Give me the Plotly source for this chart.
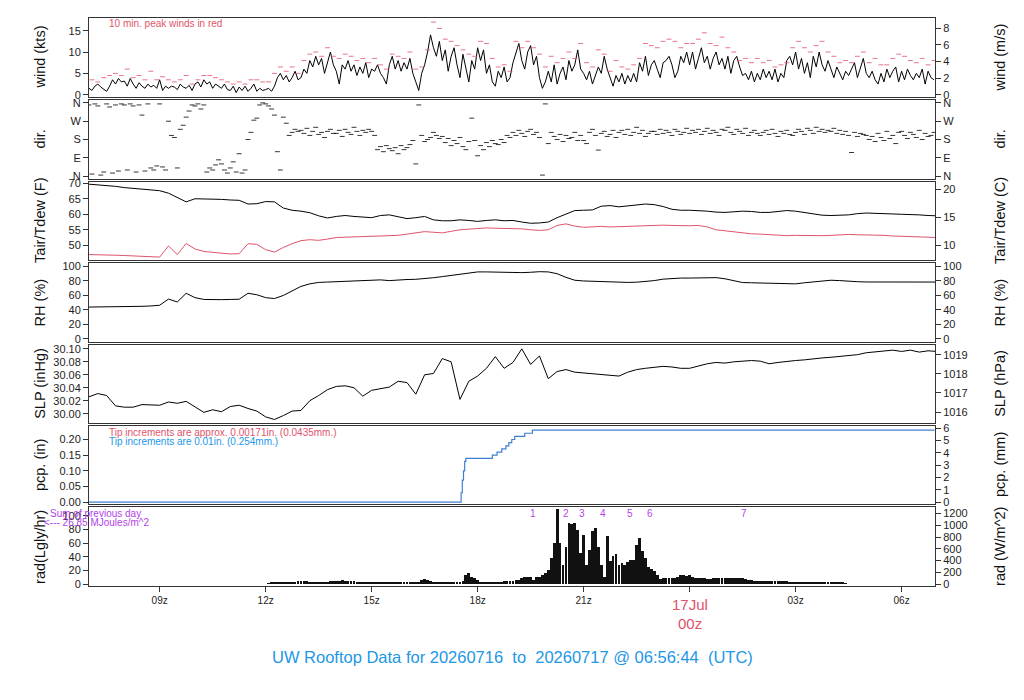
import pandas as pd
import plotly.graph_objects as go

T0 = '2026-07-16 07:00'
T1 = '2026-07-17 06:56:44'

# wind speed (kts), 5-min samples from 07z
wind_kts = [
    1.5, 1.0, 2.0, 2.5, 1.8, 1.2, 0.8, 2.0, 3.5, 2.5, 3.8, 3.0,
    3.2, 2.0, 3.8, 2.5, 1.5, 2.8, 2.0, 1.5, 2.5, 1.8, 2.2, 1.5,
    3.5, 1.0, 2.0, 1.5, 2.0, 1.8, 1.2, 2.5, 1.8, 1.5, 2.2, 1.0,
    2.5, 3.0, 1.8, 3.5, 2.5, 3.0, 1.5, 2.5, 2.0, 1.5, 2.5, 1.2,
    1.0, 2.0, 0.5, 1.8, 1.0, 2.0, 0.8, 1.5, 2.5, 0.8, 1.5, 1.0,
    1.2, 1.5, 0.8, 2.0, 4.0, 5.0, 3.5, 4.5, 3.0, 4.0, 5.5, 3.5,
    4.0, 6.0, 5.0, 8.0, 6.5, 9.0, 7.0, 8.5, 5.0, 7.5, 10.0, 7.0,
    5.5, 2.5, 7.0, 6.0, 8.0, 5.5, 7.0, 4.5, 6.5, 5.0, 7.5, 4.0,
    6.0, 5.5, 7.0, 5.0, 4.0, 2.5, 7.0, 9.0, 6.0, 8.0, 5.5, 7.5,
    6.0, 8.5, 5.0, 3.0, 1.0, 5.0, 7.0, 10.0, 14.0, 11.0, 9.0, 12.5,
    8.0, 10.5, 5.5, 9.0, 11.0, 7.0, 4.0, 9.5, 6.0, 3.0, 8.0, 6.0,
    11.0, 8.0, 10.5, 5.0, 7.0, 3.0, 2.0, 5.5, 4.0, 6.5, 3.0, 4.0,
    7.5, 10.0, 12.0, 8.0, 6.0, 10.0, 11.5, 7.0, 9.0, 4.0, 1.5, 3.0,
    5.5, 3.0, 7.0, 2.5, 5.0, 6.5, 3.5, 8.0, 5.5, 7.0, 10.5, 6.0,
    5.0, 3.5, 5.5, 2.5, 4.5, 6.5, 5.0, 9.0, 6.0, 4.0, 2.0, 4.5,
    3.0, 5.0, 2.5, 4.5, 3.0, 5.0, 3.0, 7.5, 5.5, 9.0, 4.5, 7.0,
    8.0, 6.0, 4.0, 7.5, 8.0, 9.0, 7.0, 4.0, 5.5, 9.0, 7.5, 10.0,
    7.0, 10.0, 6.0, 8.5, 11.0, 7.5, 9.0, 6.0, 8.5, 10.0, 7.0, 8.5,
    6.0, 9.0, 5.0, 8.0, 9.0, 6.5, 4.5, 5.0, 3.5, 5.5, 3.0, 5.0,
    3.5, 6.0, 4.0, 5.5, 3.5, 6.0, 3.0, 5.0, 4.0, 8.0, 9.0, 7.0,
    10.0, 6.0, 8.5, 5.0, 7.5, 4.0, 9.0, 6.5, 10.0, 7.0, 5.5, 8.0,
    6.0, 4.0, 6.5, 5.0, 3.5, 5.5, 4.5, 6.0, 7.5, 4.0, 6.0, 8.5,
    5.0, 4.0, 5.5, 3.5, 2.5, 5.0, 3.0, 6.0, 4.0, 5.5, 6.5, 3.0,
    5.5, 3.5, 6.0, 4.5, 3.5, 5.0, 4.0, 6.0, 2.5, 5.5, 4.0, 3.5,
]

# 10-min peak wind (kts)
peak_kts = [
    3.5, 3.0, 4.0, 4.5, 5.0, 4.5,
    6.0, 4.0, 4.5, 3.5, 5.5, 3.5,
    4.2, 3.5, 3.0, 3.5, 4.5, 2.5,
    3.5, 4.5, 4.5, 4.0, 3.5, 3.0,
    2.5, 3.0, 2.5, 3.5, 3.5, 3.0,
    3.0, 5.0, 6.5, 5.5, 6.5, 5.0,
    8.0, 9.5, 10.0, 9.0, 11.0, 9.0,
    8.5, 9.5, 9.0, 8.0, 8.5, 7.5,
    8.5, 7.0, 6.0, 9.5, 9.0, 8.5,
    10.0, 6.0, 6.5, 10.5, 17.0, 15.5,
    13.0, 12.5, 11.5, 10.5, 9.5, 9.0,
    12.5, 12.0, 8.5, 6.5, 7.0, 5.5,
    12.5, 11.0, 12.5, 11.0, 9.5, 6.5,
    9.0, 7.5, 8.5, 10.0, 8.5, 12.0,
    7.5, 6.5, 10.5, 9.5, 5.5, 8.0,
    6.5, 6.0, 7.0, 8.5, 12.0, 11.5,
    11.0, 12.5, 13.0, 12.5, 11.0, 12.0,
    12.0, 13.0, 14.5, 12.0, 11.5, 13.5,
    11.0, 10.0, 8.0, 8.5, 7.5, 8.5,
    7.5, 8.0, 6.5, 7.0, 7.5, 11.0,
    12.5, 11.0, 10.0, 11.5, 12.5, 10.0,
    9.0, 7.5, 8.0, 7.5, 9.0, 10.0,
    7.5, 8.5, 7.0, 7.0, 8.5, 9.5,
    9.0, 8.0, 7.5, 8.5, 7.0, 8.0,
]

# wind direction (deg, 0=N bottom), 5-min samples
wind_dir = [
    350, 10, 355, 345, 5, 20, 355, 340, 15, 350, 25, 355,
    350, 30, 355, 345, 20, 350, 300, 25, 355, 40, 30, 50,
    355, 45, 30, 270, 200, 190, 40, 230, 250, 290, 320, 350,
    345, 355, 330, 350, 20, 40, 30, 55, 80, 60, 30, 15,
    40, 70, 20, 110, 15, 30, 180, 215, 275, 285, 350, 360,
    355, 345, 330, 300, 120, 30, 290, 260, 200, 215, 230, 220,
    225, 210, 235, 200, 220, 240, 205, 215, 190, 220, 230, 210,
    210, 225, 195, 230, 215, 205, 240, 220, 200, 225, 215, 230,
    220, 200, 130, 145, 120, 150, 135, 125, 140, 110, 150, 130,
    140, 155, 175, 60, 350, 200, 170, 180, 190, 215, 200, 185,
    195, 165, 185, 150, 175, 160, 190, 145, 130, 170, 285, 175,
    100, 150, 130, 165, 145, 175, 160, 155, 180, 165, 200, 190,
    215, 200, 225, 210, 195, 220, 230, 205, 215, 190, 5, 355,
    160, 215, 195, 180, 205, 170, 200, 185, 190, 215, 175, 200,
    175, 160, 215, 230, 200, 128, 210, 220, 195, 205, 225, 190,
    215, 225, 205, 230, 200, 215, 240, 210, 225, 195, 210, 220,
    220, 205, 230, 210, 225, 215, 200, 230, 220, 205, 215, 235,
    210, 225, 215, 230, 205, 220, 235, 210, 225, 215, 200, 230,
    225, 240, 215, 205, 230, 220, 210, 235, 200, 215, 225, 210,
    200, 215, 225, 205, 230, 210, 195, 220, 210, 225, 205, 200,
    215, 230, 220, 205, 235, 225, 210, 240, 220, 230, 215, 225,
    220, 235, 210, 225, 205, 220, 200, 116, 215, 195, 210, 205,
    200, 180, 195, 170, 210, 190, 175, 220, 185, 200, 160, 215,
    220, 200, 185, 215, 205, 190, 225, 180, 210, 195, 200, 215,
]

# 15-min samples from 07z
tair_f = [
    69.7, 69.5, 69.3, 69.0, 68.6, 68.3, 68.1, 67.9,
    67.6, 66.8, 65.3, 64.0, 65.0, 65.0, 64.9, 64.8,
    64.6, 64.5, 63.3, 63.4, 64.1, 64.0, 62.0, 61.3,
    61.0, 60.5, 59.5, 58.8, 59.3, 59.6, 59.3, 59.0,
    58.9, 59.6, 59.8, 59.2, 58.6, 58.9, 59.3, 58.2,
    57.9, 57.9, 58.2, 58.0, 57.7, 58.0, 58.2, 57.9,
    58.0, 57.5, 57.1, 57.2, 57.5, 58.9, 60.0, 61.2,
    61.3, 61.4, 62.6, 62.8, 62.4, 62.7, 63.2, 63.3,
    63.1, 62.5, 61.6, 61.3, 61.3, 61.2, 61.0, 60.7,
    60.6, 60.8, 61.0, 60.9, 60.6, 60.6, 61.0, 61.2,
    61.0, 60.6, 60.2, 59.7, 59.6, 59.7, 59.8, 60.2,
    60.4, 60.3, 60.1, 60.1, 60.0, 60.0, 59.8, 59.6,
    59.5,
]
tdew_f = [
    47.0, 47.0, 46.9, 46.8, 46.7, 46.6, 46.5, 46.3,
    46.2, 49.8, 47.0, 50.6, 48.8, 48.0, 47.7, 47.4,
    47.2, 47.3, 50.5, 50.3, 48.6, 47.8, 49.3, 50.5,
    51.5, 51.8, 51.6, 52.0, 52.5, 52.6, 52.7, 52.8,
    52.9, 53.0, 53.1, 53.2, 53.6, 53.9, 54.4, 54.2,
    54.0, 54.5, 55.0, 55.2, 55.4, 55.6, 55.5, 55.4,
    55.5, 55.3, 55.0, 54.8, 55.0, 56.4, 56.9, 56.2,
    55.8, 55.9, 56.1, 55.9, 56.0, 56.2, 56.3, 56.4,
    56.4, 56.5, 56.4, 56.3, 56.3, 56.4, 55.9, 55.0,
    54.7, 54.2, 53.9, 53.7, 53.6, 53.4, 53.2, 53.1,
    53.2, 53.1, 53.0, 53.1, 53.2, 53.4, 53.5, 53.4,
    53.4, 53.3, 53.2, 53.0, 52.9, 52.8, 52.7, 52.6,
    52.5,
]
rh_pct = [
    44, 44, 44, 44.5, 44.5, 45, 45, 45.5,
    46.5, 55, 51, 63, 57, 54.5, 54, 54.2,
    54.5, 54.8, 63, 61, 57, 55.7, 60, 66,
    72.5, 76, 78, 78.5, 79, 79.2, 80, 80.5,
    81, 81.5, 80.5, 81.5, 82, 82.3, 83, 84.5,
    86, 87.5, 89, 91, 92.5, 92.5, 92, 92,
    91.8, 91.5, 92, 92.8, 92.5, 90, 85, 81,
    80, 79.5, 78.5, 78, 77.8, 78, 78.3, 79,
    80.5, 82.5, 83.7, 84, 84, 84, 84.2, 84.6,
    83, 80, 77.8, 77.5, 77, 76.5, 76, 75.6,
    76, 77.5, 79, 80, 81, 80.5, 79.5, 79,
    78.6, 78.5, 78.6, 78.5, 78.5, 78.4, 78.4, 78.5,
    78.5,
]
slp_inhg = [
    30.026, 30.031, 30.028, 30.012, 30.010, 30.010, 30.014, 30.014,
    30.013, 30.018, 30.016, 30.019, 30.010, 30.002, 30.006, 30.003,
    30.011, 30.013, 30.008, 30.004, 29.995, 29.991, 29.997, 30.004,
    30.005, 30.020, 30.028, 30.037, 30.042, 30.043, 30.040, 30.027,
    30.036, 30.038, 30.041, 30.050, 30.048, 30.030, 30.060, 30.062,
    30.085, 30.080, 30.022, 30.050, 30.058, 30.070, 30.088, 30.070,
    30.079, 30.100, 30.076, 30.089, 30.054, 30.065, 30.068, 30.064,
    30.063, 30.061, 30.060, 30.059, 30.058, 30.064, 30.068, 30.070,
    30.071, 30.073, 30.072, 30.070, 30.070, 30.074, 30.077, 30.079,
    30.078, 30.080, 30.081, 30.082, 30.081, 30.077, 30.079, 30.081,
    30.082, 30.083, 30.085, 30.086, 30.087, 30.088, 30.090, 30.091,
    30.094, 30.095, 30.097, 30.098, 30.096, 30.098, 30.095, 30.097,
    30.096,
]

# accumulated precipitation (in)
pcp_time = ['2026-07-16 07:00', '2026-07-16 17:30', '2026-07-16 17:32', '2026-07-16 17:34',
            '2026-07-16 17:36', '2026-07-16 17:38', '2026-07-16 17:40', '2026-07-16 18:25',
            '2026-07-16 18:33', '2026-07-16 18:41', '2026-07-16 18:48', '2026-07-16 18:53',
            '2026-07-16 18:58', '2026-07-16 19:03', '2026-07-16 19:20', '2026-07-16 19:33',
            '2026-07-17 06:56']
pcp_in = [0.0, 0.0, 0.03, 0.07, 0.10, 0.13, 0.14, 0.15, 0.16, 0.17, 0.18, 0.19,
          0.20, 0.21, 0.22, 0.23, 0.23]

# solar radiation (Langley/hr), 5-min samples from 12z
rad_lgly = [
    0, 0.5, 1, 1, 1, 1.5, 1.5, 2, 2, 2.5, 3, 3.5,
    4, 4, 3.5, 3, 3, 3, 2.5, 2.5, 3, 3, 3.5, 3.5,
    4, 4.5, 5, 4.5, 4, 4, 3.5, 3, 3, 2.5, 2.5, 3,
    2.5, 2.5, 2.5, 2, 2, 2, 2, 2, 2, 2, 2, 2,
    2, 2, 2, 2.5, 3, 5, 7, 6, 4, 3, 2.5, 2,
    2, 2, 2, 2.5, 3, 3, 3, 4, 12, 16, 10, 9,
    5, 3, 3, 3, 3, 2.5, 3, 3, 3, 3.5, 4, 4,
    4, 5, 6, 9, 10, 10, 10, 6, 10, 10, 12, 15,
    20, 38, 60, 109, 60, 28, 53, 89, 87, 89, 78, 45,
    72, 28, 50, 77, 82, 53, 28, 10, 70, 33, 40, 43,
    28, 30, 27, 31, 35, 35, 57, 67, 48, 38, 24, 22,
    18, 12, 7, 9, 9, 9, 9, 9, 10, 12, 12, 11,
    12, 10, 8, 8, 8, 8, 7, 7, 8, 8, 8, 8,
    8, 8, 8, 9, 9, 9, 8, 7, 6, 5, 4, 4,
    4, 4, 4, 4, 4, 4, 3.5, 3.5, 3.5, 3.5, 3, 3,
    3, 3, 3, 2.5, 2.5, 2.5, 2, 2, 2, 2, 1.5, 1.5,
    1.5, 1, 1, 1, 1, 0.5,
]
rad_marks = ['1', '2', '3', '4', '5', '6', '7']
rad_mark_time = ['2026-07-16 19:34', '2026-07-16 20:30', '2026-07-16 20:57', '2026-07-16 21:33',
                 '2026-07-16 22:19', '2026-07-16 22:53', '2026-07-17 01:32']

t_wind = pd.date_range(T0, periods=len(wind_kts), freq='5min')
t_peak = pd.date_range('2026-07-16 07:05', periods=len(peak_kts), freq='10min')
t_dir = pd.date_range(T0, periods=len(wind_dir), freq='5min')
t_15 = pd.date_range(T0, periods=len(tair_f), freq='15min')
t_rad = pd.date_range('2026-07-16 12:00', periods=len(rad_lgly), freq='5min')

RED = '#DF536B'
BLUE = '#2297E6'
PURPLE = '#B23FE8'
FONT = 'Liberation Sans, Arial, sans-serif'

fig = go.Figure()
fig.add_trace(go.Scatter(x=t_wind, y=wind_kts, mode='lines', line=dict(color='black', width=1),
                         xaxis='x', yaxis='y'))
fig.add_trace(go.Scatter(x=t_peak, y=peak_kts, mode='markers',
                         marker=dict(symbol='line-ew', size=3.5, line=dict(color=RED, width=0.8)),
                         xaxis='x', yaxis='y'))
fig.add_trace(go.Scatter(x=t_dir, y=wind_dir, mode='markers',
                         marker=dict(symbol='line-ew', size=3.5, line=dict(color='black', width=0.8)),
                         xaxis='x2', yaxis='y2'))
fig.add_trace(go.Scatter(x=t_15, y=tair_f, mode='lines', line=dict(color='black', width=1),
                         xaxis='x3', yaxis='y3'))
fig.add_trace(go.Scatter(x=t_15, y=tdew_f, mode='lines', line=dict(color=RED, width=1),
                         xaxis='x3', yaxis='y3'))
fig.add_trace(go.Scatter(x=t_15, y=rh_pct, mode='lines', line=dict(color='black', width=1),
                         xaxis='x4', yaxis='y4'))
fig.add_trace(go.Scatter(x=t_15, y=slp_inhg, mode='lines', line=dict(color='black', width=1),
                         xaxis='x5', yaxis='y5'))
fig.add_trace(go.Scatter(x=pcp_time, y=pcp_in, mode='lines', line=dict(color='#3F7FD0', width=1.2, shape='hv'),
                         xaxis='x6', yaxis='y6'))
fig.add_trace(go.Bar(x=t_rad, y=rad_lgly, marker=dict(color='#111', line=dict(width=0)),
                     width=5 * 60 * 1000 * 0.95, xaxis='x7', yaxis='y7'))

# panel layout: pixel top/bottom, left range/ticks, right conversion/ticks
panels = [
    (13, 93.5, [-0.6, 18.0], [0, 5, 10, 15], None, lambda v: v * 0.514444, [0, 2, 4, 6, 8], None),
    (96.5, 176, [-13, 373], [0, 90, 180, 270, 360], ['N', 'E', 'S', 'W', 'N'],
     lambda v: v, [0, 90, 180, 270, 360], ['N', 'E', 'S', 'W', 'N']),
    (179, 258.5, [45.2, 70.5], [50, 55, 60, 65, 70], None, lambda v: (v - 32) * 5 / 9, [10, 15, 20], None),
    (261.5, 341, [-3.7, 104.6], [0, 20, 40, 60, 80, 100], None, lambda v: v, [0, 20, 40, 60, 80, 100], None),
    (344, 423.5, [29.9855, 30.1066], [30.00, 30.02, 30.04, 30.06, 30.08, 30.10],
     ['30.00', '30.02', '30.04', '30.06', '30.08', '30.10'],
     lambda v: v * 33.8639, [1016, 1017, 1018, 1019], None),
    (426, 506, [-0.0075, 0.2447], [0, 0.05, 0.10, 0.15, 0.20], ['0.00', '0.05', '0.10', '0.15', '0.20'],
     lambda v: v * 25.4, [0, 1, 2, 3, 4, 5, 6], None),
    (509, 589, [-3.4, 112.3], [0, 20, 40, 60, 80, 100], None,
     lambda v: v * 11.622, [0, 200, 400, 600, 800, 1000, 1200], None),
]

W, H = 1024, 700
xdom = [89 / W, 935 / W]
tick_font = dict(family=FONT, size=11, color='#222')
layout = {}
n = len(panels)
for i, (top, bot, rng, tv, tt, conv, rtv, rtt) in enumerate(panels, start=1):
    sfx = '' if i == 1 else str(i)
    dom = [1 - bot / H, 1 - top / H]
    xa = dict(domain=xdom, anchor='y' + sfx, range=[T0, T1], showline=True, mirror=True,
              linecolor='#333', linewidth=1, showgrid=False, zeroline=False)
    if i > 1:
        xa['matches'] = 'x'
    if i == n:
        xa.update(ticks='outside', ticklen=5, tickcolor='#333',
                  tickvals=list(pd.date_range('2026-07-16 09:00', periods=8, freq='3h')),
                  ticktext=['09z', '12z', '15z', '18z', '21z', '', '03z', '06z'],
                  tickfont=dict(family=FONT, size=10, color='#222'))
    else:
        xa.update(ticks='', showticklabels=False)
    layout['xaxis' + sfx] = xa
    ya = dict(domain=dom, anchor='x' + sfx, range=rng, showline=True, mirror=True,
              linecolor='#333', linewidth=1, showgrid=False, zeroline=False,
              ticks='outside', ticklen=5, tickcolor='#333', tickvals=tv, tickfont=tick_font)
    if tt:
        ya['ticktext'] = tt
    layout['yaxis' + sfx] = ya
    ra = dict(overlaying='y' + sfx, anchor='x' + sfx, side='right', range=[conv(rng[0]), conv(rng[1])],
              showgrid=False, zeroline=False, showline=False,
              ticks='outside', ticklen=5, tickcolor='#333', tickvals=rtv, tickfont=tick_font)
    if rtt:
        ra['ticktext'] = rtt
    layout['yaxis' + str(i + n)] = ra

fig.update_layout(**layout)
# dummy traces so the right-hand axes render
for i in range(1, n + 1):
    sfx = '' if i == 1 else str(i)
    fig.add_trace(go.Scatter(x=[T0], y=[None], xaxis='x' + sfx, yaxis='y' + str(i + n),
                             showlegend=False, hoverinfo='skip'))

left_titles = ['wind (kts)', 'dir.', 'Tair/Tdew (F)', 'RH (%)', 'SLP (inHg)', 'pcp. (in)', 'rad(Lgly/hr)']
right_titles = ['wind (m/s)', 'dir.', 'Tair/Tdew (C)', 'RH (%)', 'SLP (hPa)', 'pcp. (mm)', 'rad (W/m^2)']
ann = []
for (top, bot, *_), lt, rt in zip(panels, left_titles, right_titles):
    yc = 1 - (top + bot) / 2 / H
    for txt, xp in ((lt, 40), (rt, 1000)):
        ann.append(dict(text=txt, x=xp / W, y=yc, xref='paper', yref='paper', textangle=-90,
                        xanchor='center', yanchor='middle', showarrow=False,
                        font=dict(family=FONT, size=14.5, color='#111')))


def note(txt, x, y, color, size=10, anchor='left', xref='paper', yref='paper'):
    return dict(text=txt, x=x, y=y, xref=xref, yref=yref, xanchor=anchor, yanchor='middle',
                showarrow=False, font=dict(family=FONT, size=size, color=color))


ann += [
    note('10 min. peak winds in red', 107 / W, 1 - 19 / H, RED),
    note('Tip increments are approx. 0.00171in. (0.0435mm.)', 107 / W, 1 - 433 / H, RED),
    note('Tip increments are 0.01in. (0.254mm.)', 107 / W, 1 - 442 / H, BLUE),
    note('Sum of previous day', 48 / W, 1 - 515 / H, PURPLE),
    note('<--- 26.85 MJoules/m^2', 42 / W, 1 - 524 / H, PURPLE),
    note('17Jul', '2026-07-17 00:00', 1 - 607 / H, RED, size=15, anchor='center', xref='x7'),
    note('00z', '2026-07-17 00:00', 1 - 627 / H, RED, size=15, anchor='center', xref='x7'),
    note('UW Rooftop Data for 20260716\u00a0\u00a0to\u00a0\u00a020260717 @ 06:56:44\u00a0\u00a0(UTC)',
         0.5, 1 - 660 / H, BLUE, size=16.5, anchor='center'),
]
for lab, tm in zip(rad_marks, rad_mark_time):
    ann.append(note(lab, tm, 104, PURPLE, anchor='center', xref='x7', yref='y7'))

fig.update_layout(
    width=W, height=H, margin=dict(l=0, r=0, t=0, b=0),
    paper_bgcolor='white', plot_bgcolor='white', showlegend=False,
    bargap=0, annotations=ann, font=dict(family=FONT),
)

fig.write_html("out.html", config={'displayModeBar': False},
               post_script="document.body.style.margin='0';")
